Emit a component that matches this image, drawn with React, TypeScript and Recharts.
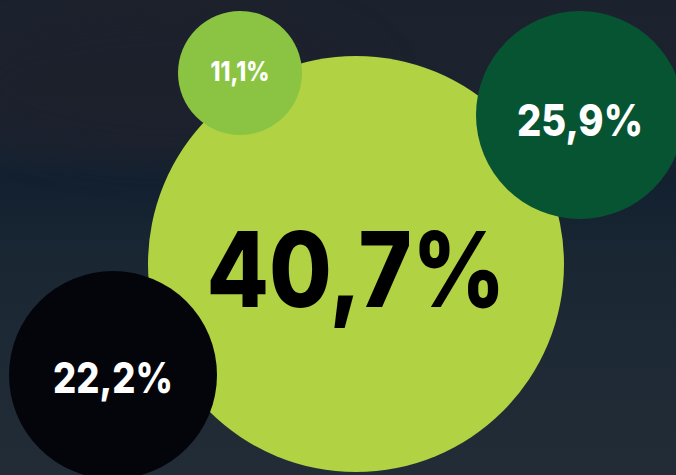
import { ScatterChart, Scatter, XAxis, YAxis, Cell } from "recharts";

// bubble data (drawing order: biggest first so the small ones sit on top)
const labels = ["40,7%", "11,1%", "25,9%", "22,2%"];
const values = [40.7, 11.1, 25.9, 22.2];
const xPos = [356, 240, 580, 113];
const yPos = [264, 73, 115, 375];
const radius = [208, 62, 104, 104];

const fills = ["#b0d243", "#8bc442", "#075433", "#03050b"];
const textColors = ["#000000", "#ffffff", "#ffffff", "#ffffff"];
const fontSizes = [104, 27, 44, 43];
const textWidths = [299, 59, 126, 120];
const textShift = [6, -2, 5, 3];

const W = 676;
const H = 475;

const data = labels.map((label, i) => ({
  label,
  value: values[i],
  x: xPos[i],
  y: yPos[i],
  r: radius[i],
  idx: i,
}));

function Bubble(props: any) {
  const { cx, cy, payload, fill } = props;
  if (cx == null || cy == null) return null;
  const xScale = props.xAxis?.scale;
  const unit = xScale ? Math.abs(xScale(1) - xScale(0)) : 1;
  const r = payload.r * unit;
  const i = payload.idx;
  const fs = fontSizes[i];
  return (
    <g>
      <circle cx={cx} cy={cy} r={r} fill={fill} />
      <text
        x={cx - textWidths[i] / 2}
        y={cy + fs * 0.36 + textShift[i]}
        textLength={textWidths[i]}
        lengthAdjust="spacingAndGlyphs"
        fill={textColors[i]}
        style={{
          fontFamily: "Inter, 'Noto Sans', sans-serif",
          fontWeight: 800,
          fontSize: fs,
        }}
      >
        {payload.label}
      </text>
    </g>
  );
}

export default function App() {
  return (
    <div
      style={{
        position: "absolute",
        left: 0,
        top: 0,
        width: W,
        height: H,
        overflow: "hidden",
        background:
          "linear-gradient(180deg, #1c222d 0%, #1a2330 30%, #122030 38%, #1a2733 55%, #222c37 100%)",
      }}
    >
      <div
        style={{
          position: "absolute",
          left: -40,
          top: 10,
          width: 420,
          height: 150,
          borderRadius: "50%",
          background: "rgba(30,32,44,0.6)",
          filter: "blur(18px)",
        }}
      />
      <ScatterChart
        width={W}
        height={H}
        margin={{ top: 0, right: 0, bottom: 0, left: 0 }}
        style={{ position: "absolute", left: 0, top: 0 }}
      >
        <XAxis type="number" dataKey="x" domain={[0, W]} hide />
        <YAxis type="number" dataKey="y" domain={[0, H]} reversed hide />
        <Scatter data={data} shape={<Bubble />} isAnimationActive={false}>
          {data.map((d, i) => (
            <Cell key={d.label} fill={fills[i]} />
          ))}
        </Scatter>
      </ScatterChart>
    </div>
  );
}
